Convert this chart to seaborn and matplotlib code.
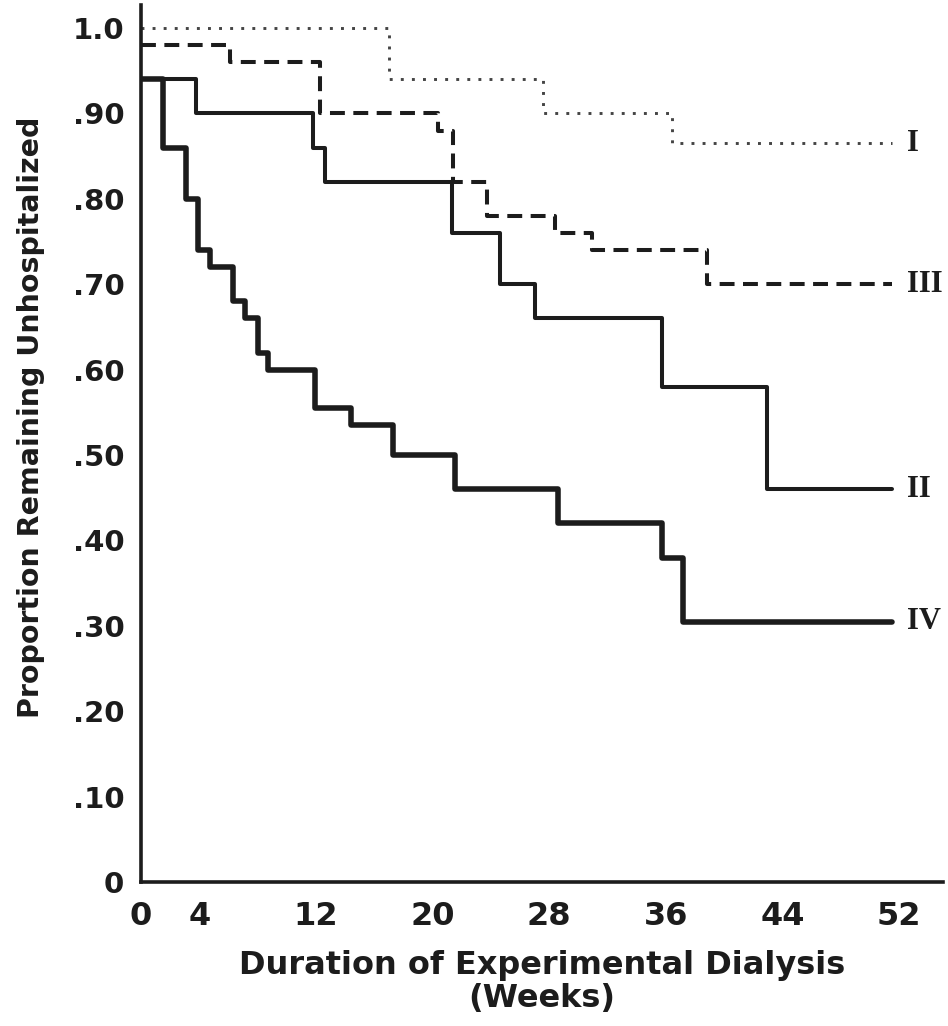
import matplotlib
matplotlib.use("Agg")
import matplotlib.pyplot as plt
import numpy as np
import pandas as pd
import seaborn as sns

# Kaplan-Meier style step curves: week of each drop and the proportion after it
weeks_I = [0, 17.0, 27.6, 36.4, 51.5]
prop_I = [1.00, 0.94, 0.90, 0.865, 0.865]

weeks_II = [0, 3.8, 11.8, 12.6, 21.3, 24.6, 27.0, 35.7, 42.9, 51.5]
prop_II = [0.94, 0.90, 0.86, 0.82, 0.76, 0.70, 0.66, 0.58, 0.46, 0.46]

weeks_III = [0, 6.1, 12.3, 20.4, 21.4, 23.7, 28.4, 30.9, 38.8, 51.5]
prop_III = [0.98, 0.96, 0.90, 0.88, 0.82, 0.78, 0.76, 0.74, 0.70, 0.70]

weeks_IV = [0, 1.5, 3.1, 3.9, 4.7, 6.3, 7.1, 8.0, 8.7, 11.9, 14.4, 17.3,
            21.5, 28.6, 35.7, 37.2, 51.5]
prop_IV = [0.94, 0.86, 0.80, 0.74, 0.72, 0.68, 0.66, 0.62, 0.60, 0.555,
           0.535, 0.50, 0.46, 0.42, 0.38, 0.305, 0.305]

group_names = ["I", "II", "III", "IV"]
x_tick_positions = list(range(0, 53, 4))
x_tick_labels = ["0", "4", "", "12", "", "20", "", "28", "", "36", "", "44", "", "52"]
y_tick_positions = [0.0, 0.1, 0.2, 0.3, 0.4, 0.5, 0.6, 0.7, 0.8, 0.9, 1.0]
y_tick_labels = ["0", ".10", ".20", ".30", ".40", ".50", ".60", ".70", ".80", ".90", "1.0"]

curves = {
    "I": (weeks_I, prop_I),
    "II": (weeks_II, prop_II),
    "III": (weeks_III, prop_III),
    "IV": (weeks_IV, prop_IV),
}
frames = [pd.DataFrame({"week": w, "proportion": p, "group": g})
          for g, (w, p) in curves.items()]
df = pd.concat(frames, ignore_index=True)

sns.set_theme(style="white")
plt.rcParams["font.family"] = ["DejaVu Sans"]
plt.rcParams["font.weight"] = "bold"

ink = "#1c1c1c"
line_styles = {
    "I": dict(lw=2.1, ls=(0, (1.0, 2.8)), color="#444444"),
    "II": dict(lw=2.9, ls="-", color=ink),
    "III": dict(lw=2.9, ls=(0, (3.7, 2.1)), color=ink),
    "IV": dict(lw=4.0, ls="-", color=ink),
}

fig = plt.figure(figsize=(9.48, 10.26), dpi=100)
fig.patch.set_facecolor("white")
ax = fig.add_axes([141 / 948, 1 - 882 / 1026, (943 - 141) / 948, (882 - 5) / 1026])

for g in group_names:
    st = line_styles[g]
    sub = df[df["group"] == g]
    sns.lineplot(data=sub, x="week", y="proportion", ax=ax, estimator=None,
                 drawstyle="steps-post", color=st["color"], linewidth=st["lw"],
                 linestyle=st["ls"], legend=False)
    ax.text(52.5, sub["proportion"].iloc[-1], g, family="Liberation Serif",
            fontsize=22, fontweight="bold", color=ink, va="center", ha="left")

ax.set_xlim(0, 55)
ax.set_ylim(0, 1.027)

for side in ("top", "right"):
    ax.spines[side].set_visible(False)
for side in ("left", "bottom"):
    ax.spines[side].set_linewidth(2.6)
    ax.spines[side].set_color(ink)

ax.set_xticks(x_tick_positions)
ax.set_xticklabels(x_tick_labels)
ax.set_yticks(y_tick_positions)
ax.set_yticklabels(y_tick_labels)
ax.tick_params(axis="x", direction="in", length=11, width=2.2, color=ink,
               labelsize=23, pad=14, labelcolor=ink)
ax.tick_params(axis="y", direction="in", length=10, width=2.2, color=ink,
               labelsize=21, pad=12, labelcolor=ink)
for lbl in ax.get_xticklabels() + ax.get_yticklabels():
    lbl.set_fontweight("bold")

ax.set_xlabel("Duration of Experimental Dialysis\n(Weeks)", fontsize=23,
              fontweight="bold", color=ink, linespacing=1.1)
ax.xaxis.set_label_coords(0.5, -0.077)
ax.set_ylabel("Proportion Remaining Unhospitalized", fontsize=20.5,
              fontweight="bold", color=ink)
ax.yaxis.set_label_coords(-0.12, 0.53)

ax.grid(False)
fig.savefig("out.png", dpi=100, facecolor="white")
